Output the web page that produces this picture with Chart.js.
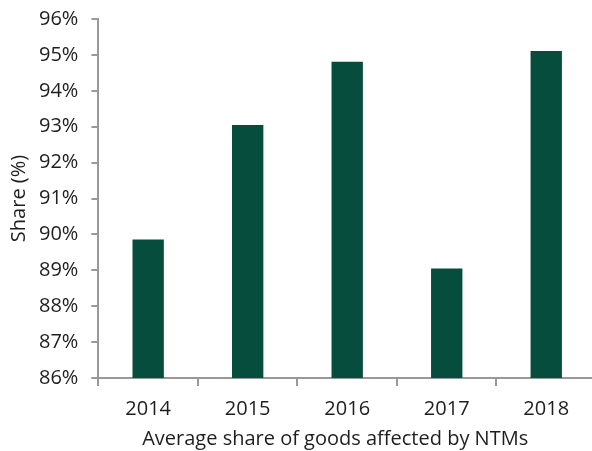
<!DOCTYPE html>
<html>
<head>
<meta charset="utf-8">
<script src="https://cdn.jsdelivr.net/npm/chart.js@4.4.0/dist/chart.umd.min.js"></script>
<style>
    html, body { margin: 0; padding: 0; background: #fff; overflow: hidden; }
    #wrap { width: 596px; height: 458px; margin-top: -6px; }
</style>
</head>
<body>
<div id="wrap"><canvas id="chart"></canvas></div>
<script>
// Chart data
const years = ["2014", "2015", "2016", "2017", "2018"];
const shareValues = [89.86, 93.05, 94.81, 89.05, 95.11];
const yTicks = [86, 87, 88, 89, 90, 91, 92, 93, 94, 95, 96];
const xTitle = "Average share of goods affected by NTMs";

const axisGrey = "#999999";
const barGreen = "#064D3D";
const textColor = "#1e1e1e";
const labelFont = { family: "'Open Sans', sans-serif", size: 20 };

// Draw x title a bit left of the axis centre, like the original
const xTitlePlugin = {
    id: "xTitle",
    afterDraw(chart) {
        const s = chart.scales.x;
        const c = chart.ctx;
        c.save();
        c.font = labelFont.size + "px " + labelFont.family;
        c.fillStyle = textColor;
        c.textAlign = "center";
        c.textBaseline = "middle";
        c.fillText(xTitle, (s.left + s.right) / 2 - 12, s.bottom - 1 - labelFont.size * 0.6);
        c.restore();
    }
};

function initChart() {
    const ctx = document.getElementById("chart").getContext("2d");
    new Chart(ctx, {
        type: "bar",
        data: {
            labels: years,
            datasets: [{
                label: "Share",
                data: shareValues,
                backgroundColor: barGreen,
                categoryPercentage: 1,
                barPercentage: 0.315
            }]
        },
        options: {
            responsive: true,
            maintainAspectRatio: false,
            animation: false,
            devicePixelRatio: 1,
            layout: { padding: { left: 7, right: 0, top: 2, bottom: 0 } },
            plugins: { legend: { display: false }, tooltip: { enabled: false } },
            scales: {
                x: {
                    grid: { display: true, drawOnChartArea: false, offset: true, tickLength: 8, color: axisGrey, lineWidth: 2 },
                    border: { color: axisGrey, width: 2 },
                    ticks: { color: textColor, font: labelFont, padding: 11 },
                    title: {
                        display: true,
                        text: xTitle,
                        color: "transparent",
                        font: labelFont,
                        padding: { top: -5, bottom: 1 }
                    }
                },
                y: {
                    min: yTicks[0],
                    max: yTicks[yTicks.length - 1],
                    afterBuildTicks: scale => { scale.ticks = yTicks.map(v => ({ value: v })); },
                    grid: { display: true, drawOnChartArea: false, tickLength: 7, color: axisGrey, lineWidth: 2 },
                    border: { color: axisGrey, width: 2 },
                    ticks: {
                        color: textColor,
                        font: labelFont,
                        padding: 13,
                        callback: v => v + "%"
                    },
                    title: {
                        display: true,
                        text: "Share (%)",
                        color: textColor,
                        font: labelFont,
                        padding: { top: 0, bottom: -5 }
                    }
                }
            }
        },
        plugins: [xTitlePlugin]
    });
}

window.onload = initChart;
</script>
</body>
</html>
